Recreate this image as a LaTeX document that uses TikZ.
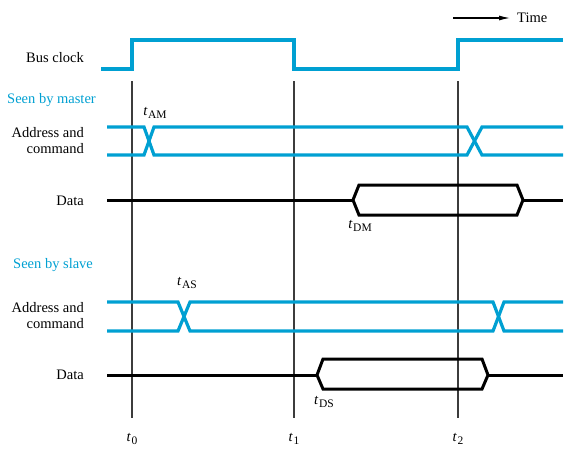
\documentclass[tikz,border=0pt]{standalone}
\usepackage{fontspec}
\setmainfont{Liberation Serif}
\usetikzlibrary{arrows.meta}
\definecolor{sig}{RGB}{0,160,210}
\definecolor{grid}{RGB}{60,60,60}
\newcommand{\tlab}[1]{\textit{t}\kern0.6pt\raisebox{-0.45ex}{\fontsize{11.5}{12}\selectfont #1}}
\begin{document}
\begin{tikzpicture}[x=1pt,y=-1pt,
  lbl/.style={font=\fontsize{14.5}{16}\selectfont, inner sep=0pt, align=right, anchor=east},
  hdr/.style={font=\fontsize{14.5}{16}\selectfont, inner sep=0pt, anchor=west, text=sig},
  tl/.style={font=\fontsize{14.5}{16}\selectfont, inner sep=0pt},
  cyanline/.style={draw=sig, line width=3.2pt, line join=miter},
  dataline/.style={draw=black, line width=3pt, line join=miter},
  vline/.style={draw=grid, line width=1.2pt}]
\useasboundingbox (0,0) rectangle (580,453);
% time arrow
\coordinate (ta) at (453,18);
\coordinate (tb) at (510,18);
\draw[line width=1.1pt, -{Latex[length=11pt,width=5pt]}] (ta) -- (tb);
\node[tl, anchor=west] (time) at (517,18) {Time};
% vertical timing lines
\foreach \n/\x in {0/132,1/294,2/458}{
  \coordinate (vt\n) at (\x,81);
  \coordinate (vb\n) at (\x,418);
  \draw[vline] (vt\n) -- (vb\n);
  \node[tl] (t\n) at (\x,439) {\tlab{\n}};
}
% labels
\node[lbl] (busclk) at (84,58) {Bus clock};
\node[hdr] (master) at (7,100) {Seen by master};
\node[lbl] (addrm) at (84,141) {Address and\\command};
\node[lbl] (datam) at (84,201) {Data};
\node[hdr] (slave) at (13,265) {Seen by slave};
\node[lbl] (addrs) at (84,316) {Address and\\command};
\node[lbl] (datas) at (84,375) {Data};
% timing labels
\node[tl] (tam) at (155,113) {\tlab{AM}};
\node[tl] (tdm) at (360,226) {\tlab{DM}};
\node[tl] (tas) at (187,283) {\tlab{AS}};
\node[tl] (tds) at (324,402) {\tlab{DS}};
% bus clock
\draw[cyanline] (101,69) -- (132,69) -- (132,40) -- (294,40) -- (294,69) -- (458,69) -- (458,40) -- (563,40);
% master address/command
\draw[cyanline] (107,127) -- (144,127) -- (154,155) -- (467,155) -- (482,127) -- (563,127);
\draw[cyanline] (107,155) -- (144,155) -- (154,127) -- (467,127) -- (482,155) -- (563,155);
% master data
\draw[dataline] (107,200) -- (353,200);
\draw[dataline] (353,200) -- (359,185) -- (517,185) -- (523,200) -- (517,215) -- (359,215) -- cycle;
\draw[dataline] (523,200) -- (563,200);
% slave address/command
\draw[cyanline] (107,302) -- (178,302) -- (190,331) -- (493,331) -- (504,302) -- (563,302);
\draw[cyanline] (107,331) -- (178,331) -- (190,302) -- (493,302) -- (504,331) -- (563,331);
% slave data
\draw[dataline] (107,375) -- (317,375);
\draw[dataline] (317,375) -- (323,359) -- (482,359) -- (488,375) -- (482,389) -- (323,389) -- cycle;
\draw[dataline] (488,375) -- (563,375);
\end{tikzpicture}
\end{document}
